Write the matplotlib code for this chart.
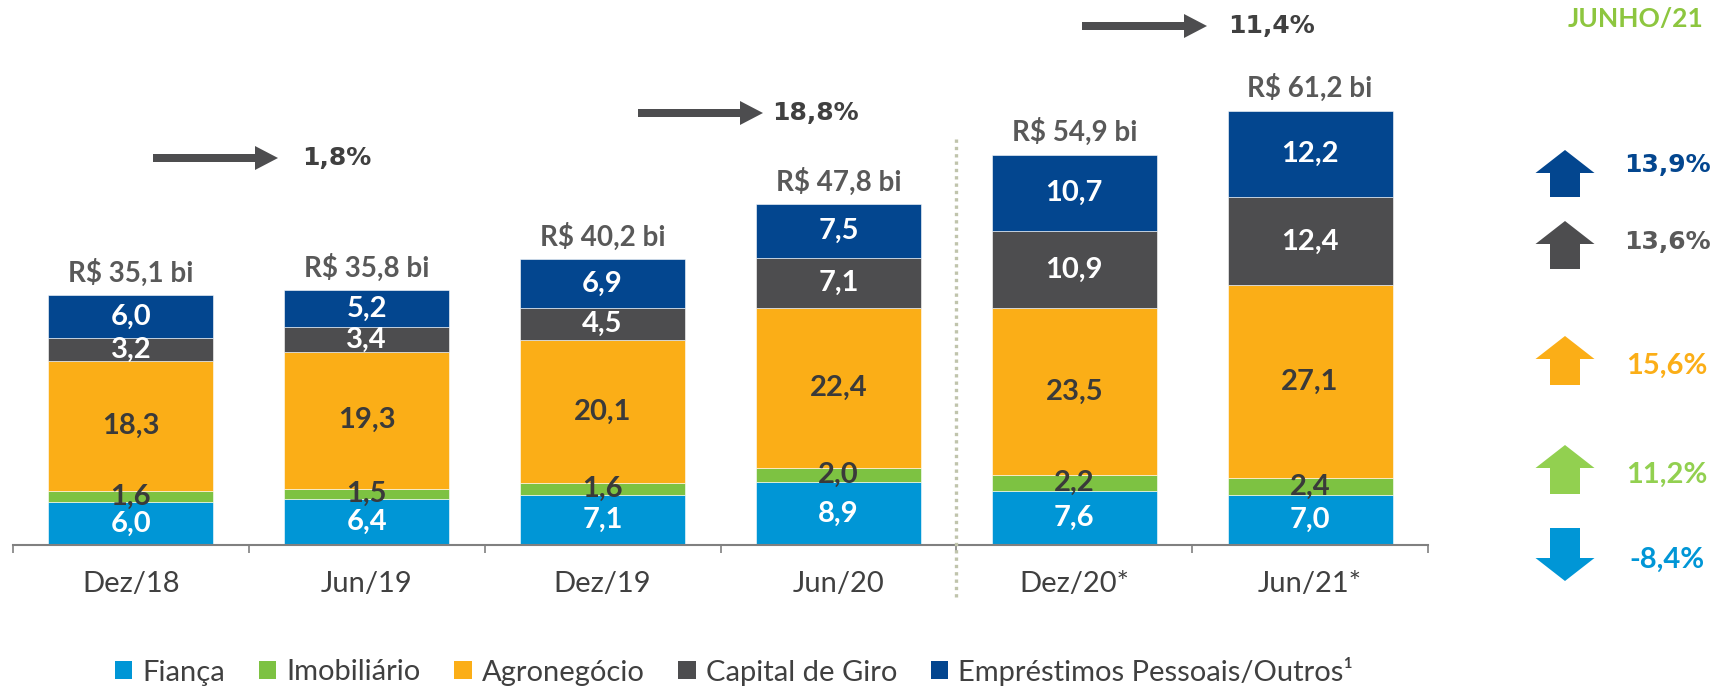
import numpy as np
import matplotlib
matplotlib.use('Agg')
import matplotlib.pyplot as plt
from matplotlib.patches import FancyArrow, Patch

# data (R$ bi)
categories = ['Dez/18', 'Jun/19', 'Dez/19', 'Jun/20', 'Dez/20*', 'Jun/21*']
fianca = [6.0, 6.4, 7.1, 8.9, 7.6, 7.0]
imobiliario = [1.6, 1.5, 1.6, 2.0, 2.2, 2.4]
agro = [18.3, 19.3, 20.1, 22.4, 23.5, 27.1]
capital_giro = [3.2, 3.4, 4.5, 7.1, 10.9, 12.4]
emprestimos = [6.0, 5.2, 6.9, 7.5, 10.7, 12.2]
totals = [35.1, 35.8, 40.2, 47.8, 54.9, 61.2]

series_names = ['Fiança', 'Imobiliário', 'Agronegócio', 'Capital de Giro',
                'Empréstimos Pessoais/Outros¹']
growth_labels = ['1,8%', '18,8%', '11,4%']
yoy_labels = ['13,9%', '13,6%', '15,6%', '11,2%', '-8,4%']

C_BLUE = '#0096d6'
C_GREEN = '#7dc242'
C_ORANGE = '#fbae17'
C_GRAY = '#4d4d4f'
C_NAVY = '#03468f'
C_TXT = '#404040'

colors = [C_BLUE, C_GREEN, C_ORANGE, C_GRAY, C_NAVY]
label_colors = ['white', '#3a3a3a', '#3a3a3a', 'white', 'white']

W, H = 1719, 687
fig = plt.figure(figsize=(W / 100, H / 100), dpi=100)

# main axes: baseline at y=545px, 7.11 px per unit
base_px = 545
ax = fig.add_axes([13 / W, (H - base_px) / H, (1428 - 13) / W, base_px / H])
ax.set_xlim(-0.5, 5.5)
ax.set_ylim(0, base_px / 7.11)

x = np.arange(len(categories))
stack = [fianca, imobiliario, agro, capital_giro, emprestimos]
bottom = np.zeros(len(categories))
for vals, col, lcol in zip(stack, colors, label_colors):
  vals = np.array(vals)
  ax.bar(x, vals, 0.70, bottom=bottom, color=col, edgecolor='white', linewidth=0.4)
  for xi, b, v in zip(x, bottom, vals):
    ax.text(xi, b + v / 2, ('%.1f' % v).replace('.', ','), ha='center', va='center',
            color=lcol, fontsize=21, fontweight='bold', family='Lato')
  bottom += vals

# totals above bars
for xi, top, t in zip(x, bottom, totals):
  ax.annotate('R$ %s bi' % ('%.1f' % t).replace('.', ','), (xi, top), xytext=(0, 6),
              textcoords='offset points', ha='center', va='bottom', fontsize=20,
              fontweight='bold', color='#595959', family='Lato')

# axes styling
for s in ['top', 'left', 'right']:
  ax.spines[s].set_visible(False)
ax.spines['bottom'].set_color('#808080')
ax.spines['bottom'].set_linewidth(1.5)
ax.set_yticks([])
ax.set_xticks(x)
ax.set_xticklabels(categories, family='Lato', fontsize=21, color=C_TXT)
ax.tick_params(axis='x', which='major', length=0, pad=19)
ax.set_xticks(np.arange(-0.5, 6, 1), minor=True)
ax.tick_params(axis='x', which='minor', length=6, width=1.2, color='#808080', direction='out')

# dotted divider between Jun/20 and Dez/20
ax.plot([3.5, 3.5], [-7.3, 57.4], color='#c0c4ac', lw=2.4, linestyle=(0, (1, 1.2)),
        dash_capstyle='butt', clip_on=False, zorder=5)

# overlay in pixel coords for annotations
ov = fig.add_axes([0, 0, 1, 1])
ov.set_xlim(0, W)
ov.set_ylim(H, 0)
ov.axis('off')

# growth arrows on top
growth_pos = [(153, 278, 158), (638, 763, 113), (1082, 1207, 26)]
growth_txt_x = [302, 772, 1228]
for (x0, x1, yy), lbl, tx in zip(growth_pos, growth_labels, growth_txt_x):
  ov.add_patch(FancyArrow(x0, yy, x1 - x0, 0, width=8, head_width=24, head_length=23,
                          length_includes_head=True, color=C_GRAY, lw=0))
  ov.text(tx, yy, lbl, ha='left', va='center', fontsize=18, fontweight='bold',
          color=C_TXT, family='DejaVu Sans')

# right panel: year on year change
ov.text(1636, 19, 'JUNHO/21', ha='center', va='center', fontsize=19, fontweight='bold',
        color='#8dc63f', family='Lato')
arrow_cols = [C_NAVY, C_GRAY, C_ORANGE, '#92d050', C_BLUE]
txt_cols = [C_NAVY, '#595959', C_ORANGE, '#92d050', C_BLUE]
arrow_span = [(197, 150), (269, 221), (385, 336), (494, 445), (528, 581)]
txt_y = [165, 242, 366, 475, 560]
txt_fam = ['DejaVu Sans', 'DejaVu Sans', 'Lato', 'Lato', 'Lato']
txt_size = [18, 18, 21, 21, 21]
for col, (y0, y1), lbl, ty, tc, fam, fs in zip(arrow_cols, arrow_span, yoy_labels, txt_y,
                                               txt_cols, txt_fam, txt_size):
  ov.add_patch(FancyArrow(1565, y0, 0, y1 - y0, width=30, head_width=59, head_length=23,
                          length_includes_head=True, color=col, lw=0))
  ov.text(1667, ty, lbl, ha='center', va='center', fontsize=fs, fontweight='bold',
          color=tc, family=fam)

# legend
handles = [Patch(facecolor=c, edgecolor='none') for c in colors]
leg = fig.legend(handles, series_names, loc='center', bbox_to_anchor=(734 / W, 1 - 671 / H),
                 ncol=5, frameon=False, handlelength=0.6, handleheight=0.6,
                 handletextpad=0.35, columnspacing=1.15, borderaxespad=0,
                 prop={'family': 'Lato', 'size': 21})
for t in leg.get_texts():
  t.set_color(C_TXT)

fig.savefig('out.png', dpi=100)
